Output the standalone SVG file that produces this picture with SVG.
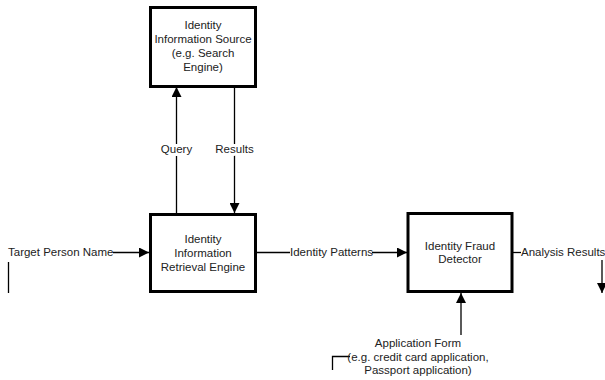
<svg xmlns="http://www.w3.org/2000/svg" width="605" height="380" viewBox="0 0 605 380">
<defs>
<style>
.box{fill:#fff;stroke:#000;stroke-width:3}
.ln{fill:none;stroke:#000;stroke-width:1.3}
text{font-family:"Liberation Sans",Arial,sans-serif;font-size:11.5px;fill:#222}
.c{text-anchor:middle}
</style>
<marker id="ah" viewBox="0 0 10 10" refX="10" refY="5" markerWidth="10" markerHeight="10" markerUnits="userSpaceOnUse" orient="auto">
<path d="M0,0 L10,5 L0,10 Z" fill="#000"/>
</marker>
</defs>
<rect width="605" height="380" fill="#fff"/>
<g id="connectors">
<line class="ln" x1="176.5" y1="214" x2="176.5" y2="87" marker-end="url(#ah)"/>
<line class="ln" x1="234.5" y1="87" x2="234.5" y2="213" marker-end="url(#ah)"/>
<line class="ln" x1="113" y1="252.5" x2="149" y2="252.5" marker-end="url(#ah)"/>
<line class="ln" x1="255" y1="252.5" x2="290" y2="252.5"/>
<line class="ln" x1="372" y1="252.5" x2="407" y2="252.5" marker-end="url(#ah)"/>
<line class="ln" x1="512" y1="252.5" x2="521" y2="252.5"/>
<line class="ln" x1="602" y1="260" x2="602" y2="293" marker-end="url(#ah)"/>
<line class="ln" x1="461" y1="335" x2="461" y2="293" marker-end="url(#ah)"/>
<line class="ln" x1="8.5" y1="262" x2="8.5" y2="293"/>
<polyline class="ln" points="332.5,370 332.5,356.5 350,356.5"/>
<text x="176.5" y="153" class="c" style="paint-order:stroke" stroke="#fff" stroke-width="6">Query</text>
<text x="234.5" y="153" class="c" style="paint-order:stroke" stroke="#fff" stroke-width="6">Results</text>
<text x="8" y="256">Target Person Name</text>
<text x="290" y="256">Identity Patterns</text>
<text x="521" y="256">Analysis Results</text>
<text x="418" y="347" class="c">Application Form</text>
<text x="418" y="361" class="c">(e.g. credit card application,</text>
<text x="418" y="374" class="c">Passport application)</text>
</g>
<g id="source">
<rect class="box" x="150.5" y="7.5" width="105" height="79"/>
<text x="203" y="29" class="c">Identity</text>
<text x="203" y="43" class="c">Information Source</text>
<text x="203" y="57" class="c">(e.g. Search</text>
<text x="203" y="71" class="c">Engine)</text>
</g>
<g id="retrieval">
<rect class="box" x="150.5" y="214.5" width="105" height="77"/>
<text x="203" y="243" class="c">Identity</text>
<text x="203" y="257" class="c">Information</text>
<text x="203" y="271" class="c">Retrieval Engine</text>
</g>
<g id="detector">
<rect class="box" x="408" y="213.5" width="104" height="78"/>
<text x="460" y="250" class="c">Identity Fraud</text>
<text x="460" y="263" class="c">Detector</text>
</g>
</svg>
